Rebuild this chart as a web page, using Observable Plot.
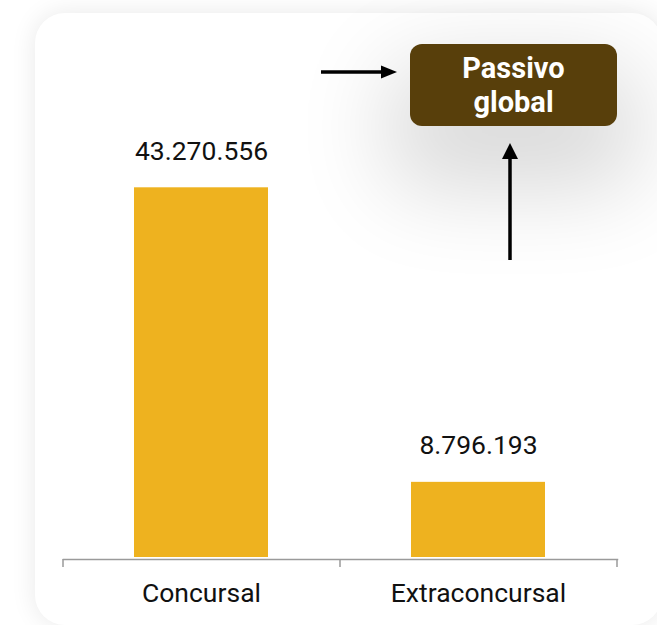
<!DOCTYPE html>
<html>
<head>
<meta charset="utf-8">
<script src="https://cdn.jsdelivr.net/npm/d3@7"></script>
<script src="https://cdn.jsdelivr.net/npm/@observablehq/plot@0.6"></script>
<style>
  html, body { margin: 0; padding: 0; background: #ffffff; width: 657px; height: 625px; overflow: hidden; font-family: Roboto, sans-serif; }
  #card { position: absolute; left: 35px; top: 13px; width: 627px; height: 612px; background: #fff; border-radius: 30px; box-shadow: 0 0 26px rgba(0,0,0,0.09); }
  #chart { position: absolute; left: 0; top: 0; }
  #badge { position: absolute; left: 410px; top: 44px; width: 207px; height: 82px; box-sizing: border-box; padding-top: 7px;
           background: #583f0b; border-radius: 12px; color: #fff; font: 700 29px/34px Roboto, sans-serif; text-align: center;
           box-shadow: 0 42px 90px 22px rgba(0,0,0,0.15); }
  #arrows { position: absolute; left: 0; top: 0; }
</style>
</head>
<body>
<div id="card"></div>
<div id="chart"></div>
<div id="badge">Passivo<br>global</div>
<svg id="arrows" width="657" height="625">
  <line x1="321" y1="72" x2="384" y2="72" stroke="#000" stroke-width="3.5"/>
  <polygon points="381,65.5 397,72 381,78.5" fill="#000"/>
  <line x1="510" y1="260" x2="510" y2="156" stroke="#000" stroke-width="3.5"/>
  <polygon points="502,159 510,143 518,159" fill="#000"/>
</svg>
<script>
const categories = ["Concursal", "Extraconcursal"];
const values = [43270556, 8796193];

const data = categories.map((c, i) => ({category: c, value: values[i]}));
const fmt = d3.formatLocale({decimal: ",", thousands: ".", grouping: [3], currency: ["", ""]}).format(",d");

const W = 657, H = 625, mL = 63, mR = 40, mB = 66;
const step = (W - mL - mR) / categories.length;

const chart = Plot.plot({
  width: W,
  height: H,
  marginLeft: mL,
  marginRight: mR,
  marginTop: 20,
  marginBottom: mB,
  style: {background: "transparent", fontFamily: "Roboto, sans-serif", color: "#111"},
  x: {domain: categories, paddingInner: 0.516, paddingOuter: 0.258, label: null},
  y: {domain: [0, d3.max(values)], range: [557, 187.3], axis: null},
  marks: [
    Plot.barY(data, {x: "category", y: "value", fill: "#eeb21f"}),
    Plot.frame({anchor: "bottom", stroke: "#9a9a9a", strokeWidth: 1.5}),
    Plot.ruleX(categories, {x: d => d, dx: -step / 2, y1: () => 0, y2: () => 0, insetTop: 2, insetBottom: -10, stroke: "#9a9a9a", strokeWidth: 1.5}),
    Plot.ruleX(categories.slice(-1), {x: d => d, dx: step / 2, y1: () => 0, y2: () => 0, insetTop: 2, insetBottom: -10, stroke: "#9a9a9a", strokeWidth: 1.5}),
    Plot.text(data, {x: "category", y: "value", text: d => fmt(d.value), dy: -28, lineAnchor: "bottom", fontSize: 26.5, fill: "#111"}),
    Plot.axisX({tickSize: 0, tickPadding: 24, fontSize: 26.5, fill: "#111", label: null})
  ]
});
document.getElementById("chart").appendChild(chart);
</script>
</body>
</html>
